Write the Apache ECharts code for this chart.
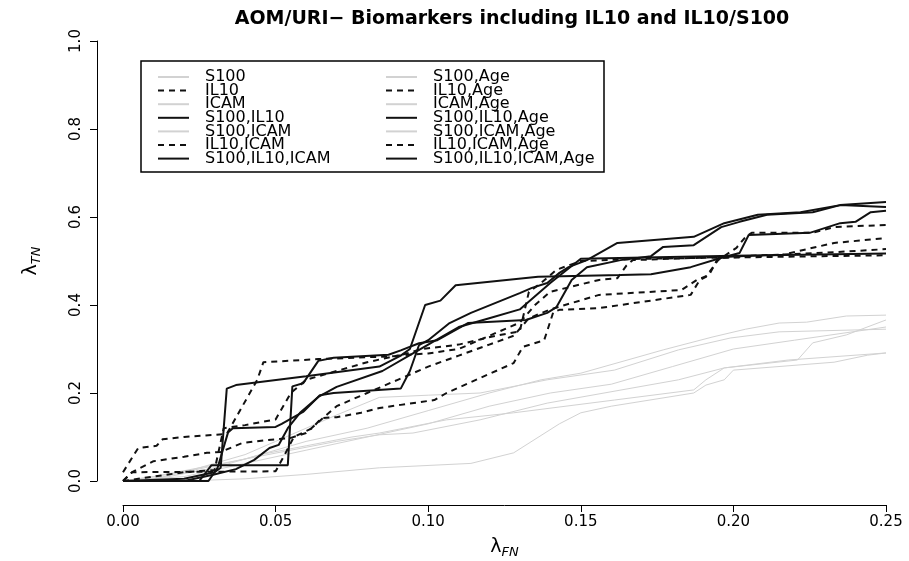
<!DOCTYPE html>
<html>
<head>
<meta charset="utf-8">
<script src="https://cdn.jsdelivr.net/npm/echarts@6/dist/echarts.min.js"></script>
<style>
  html, body { margin: 0; padding: 0; background: #fff; }
  #chart { width: 909px; height: 561px; }
</style>
</head>
<body>
<div id="chart"></div>
<script>
// tick labels
var xTicks = [0, 0.05, 0.10, 0.15, 0.20, 0.25];
var yTicks = [0, 0.2, 0.4, 0.6, 0.8, 1.0];

// legend order (two columns in the original)
var leftNames  = ['S100', 'IL10', 'ICAM', 'S100,IL10', 'S100,ICAM', 'IL10,ICAM', 'S100,IL10,ICAM'];
var rightNames = ['S100,Age', 'IL10,Age', 'ICAM,Age', 'S100,IL10,Age', 'S100,ICAM,Age', 'IL10,ICAM,Age', 'S100,IL10,ICAM,Age'];

// curves: [lambdaFN, lambdaTN]
// grey ones
var s100 = [[0,0],[0.01,0.005],[0.02,0.02],[0.03,0.04],[0.04,0.06],[0.05,0.09],[0.06,0.12],[0.07,0.15],[0.084,0.19],[0.1,0.195],[0.117,0.2],[0.139,0.23],[0.161,0.252],[0.182,0.298],[0.199,0.325],[0.215,0.339],[0.25,0.345]];
var icam = [[0,0],[0.02,0],[0.04,0.005],[0.06,0.015],[0.084,0.03],[0.114,0.04],[0.128,0.064],[0.143,0.13],[0.15,0.155],[0.16,0.17],[0.187,0.2],[0.191,0.218],[0.197,0.23],[0.2,0.252],[0.233,0.27],[0.244,0.286],[0.25,0.291]];
var s100Icam = [[0,0],[0.01,0.01],[0.025,0.03],[0.04,0.05],[0.055,0.07],[0.07,0.09],[0.084,0.105],[0.095,0.109],[0.117,0.139],[0.139,0.177],[0.182,0.23],[0.197,0.257],[0.221,0.275],[0.226,0.314],[0.237,0.332],[0.25,0.366]];
var s100Age = [[0,0],[0.015,0.01],[0.03,0.03],[0.045,0.06],[0.06,0.08],[0.075,0.1],[0.084,0.109],[0.106,0.139],[0.128,0.155],[0.161,0.184],[0.187,0.207],[0.191,0.23],[0.197,0.257],[0.218,0.275],[0.25,0.291]];
var icamAge = [[0,0],[0.02,0.02],[0.04,0.05],[0.06,0.09],[0.08,0.12],[0.1,0.16],[0.12,0.2],[0.137,0.23],[0.15,0.245],[0.177,0.298],[0.193,0.327],[0.204,0.345],[0.215,0.359],[0.224,0.361],[0.237,0.375],[0.25,0.377]];
var s100IcamAge = [[0,0],[0.02,0.01],[0.04,0.04],[0.06,0.07],[0.08,0.1],[0.1,0.13],[0.12,0.17],[0.14,0.2],[0.16,0.22],[0.18,0.26],[0.2,0.3],[0.22,0.32],[0.24,0.34],[0.25,0.35]];

// dashed ones
var il10 = [[0,0.02],[0.005,0.075],[0.011,0.08],[0.013,0.095],[0.02,0.1],[0.034,0.107],[0.044,0.23],[0.046,0.27],[0.064,0.277],[0.09,0.284],[0.098,0.3],[0.11,0.31],[0.122,0.33],[0.13,0.34],[0.133,0.43],[0.137,0.45],[0.142,0.48],[0.15,0.5],[0.17,0.505],[0.2,0.508],[0.25,0.513]];
var il10Icam = [[0,0],[0.003,0.02],[0.05,0.022],[0.053,0.06],[0.056,0.1],[0.062,0.12],[0.065,0.143],[0.07,0.145],[0.078,0.155],[0.084,0.166],[0.091,0.173],[0.102,0.184],[0.106,0.2],[0.128,0.268],[0.131,0.305],[0.138,0.32],[0.141,0.384],[0.143,0.389],[0.156,0.393],[0.186,0.423],[0.189,0.457],[0.191,0.464],[0.195,0.502],[0.201,0.53],[0.204,0.555],[0.206,0.564],[0.226,0.564],[0.233,0.577],[0.25,0.582]];
var il10Age = [[0,0],[0.003,0.02],[0.01,0.045],[0.02,0.055],[0.0275,0.064],[0.032,0.066],[0.039,0.086],[0.047,0.093],[0.055,0.098],[0.06,0.109],[0.065,0.14],[0.07,0.17],[0.08,0.2],[0.09,0.23],[0.1,0.26],[0.11,0.285],[0.12,0.31],[0.128,0.33],[0.133,0.37],[0.14,0.39],[0.156,0.423],[0.183,0.434],[0.188,0.457],[0.192,0.468],[0.195,0.507],[0.216,0.514],[0.226,0.53],[0.233,0.541],[0.25,0.552]];
var il10IcamAge = [[0,0],[0.01,0.01],[0.02,0.02],[0.03,0.025],[0.033,0.12],[0.04,0.127],[0.05,0.14],[0.055,0.2],[0.06,0.23],[0.07,0.25],[0.08,0.27],[0.09,0.285],[0.1,0.29],[0.11,0.3],[0.12,0.33],[0.13,0.36],[0.135,0.4],[0.14,0.43],[0.156,0.457],[0.162,0.461],[0.165,0.49],[0.167,0.502],[0.2,0.51],[0.233,0.52],[0.25,0.527]];

// solid black ones
var s100Il10 = [[0,0],[0.02,0.005],[0.03,0.02],[0.032,0.03],[0.034,0.21],[0.037,0.218],[0.06,0.238],[0.084,0.26],[0.091,0.285],[0.094,0.3],[0.099,0.4],[0.104,0.41],[0.109,0.445],[0.136,0.464],[0.163,0.468],[0.173,0.47],[0.186,0.486],[0.195,0.505],[0.202,0.518],[0.205,0.559],[0.225,0.564],[0.235,0.586],[0.24,0.589],[0.245,0.611],[0.25,0.614]];
var s100Il10Icam = [[0,0],[0.025,0],[0.029,0.036],[0.054,0.036],[0.0555,0.215],[0.059,0.222],[0.064,0.273],[0.069,0.28],[0.087,0.287],[0.091,0.297],[0.097,0.313],[0.103,0.32],[0.113,0.359],[0.132,0.366],[0.139,0.382],[0.142,0.395],[0.147,0.457],[0.152,0.486],[0.163,0.502],[0.173,0.511],[0.177,0.532],[0.187,0.536],[0.196,0.577],[0.202,0.589],[0.211,0.605],[0.226,0.611],[0.235,0.627],[0.25,0.623]];
var s100Il10Age = [[0,0],[0.028,0],[0.031,0.03],[0.0344,0.11],[0.036,0.12],[0.05,0.123],[0.052,0.13],[0.059,0.157],[0.0645,0.195],[0.069,0.2],[0.091,0.21],[0.094,0.25],[0.097,0.309],[0.1,0.32],[0.107,0.359],[0.114,0.382],[0.13,0.427],[0.134,0.439],[0.139,0.45],[0.143,0.473],[0.146,0.486],[0.152,0.502],[0.162,0.541],[0.187,0.555],[0.197,0.586],[0.208,0.605],[0.222,0.611],[0.235,0.627],[0.25,0.634]];
var s100Il10IcamAge = [[0,0],[0.02,0],[0.0295,0.014],[0.037,0.027],[0.043,0.048],[0.048,0.075],[0.051,0.082],[0.054,0.12],[0.058,0.155],[0.064,0.191],[0.07,0.214],[0.085,0.25],[0.095,0.29],[0.1,0.31],[0.11,0.35],[0.12,0.37],[0.13,0.39],[0.14,0.45],[0.15,0.505],[0.2,0.512],[0.25,0.517]];

var curves = {
  'S100': s100, 'IL10': il10, 'ICAM': icam, 'S100,IL10': s100Il10,
  'S100,ICAM': s100Icam, 'IL10,ICAM': il10Icam, 'S100,IL10,ICAM': s100Il10Icam,
  'S100,Age': s100Age, 'IL10,Age': il10Age, 'ICAM,Age': icamAge, 'S100,IL10,Age': s100Il10Age,
  'S100,ICAM,Age': s100IcamAge, 'IL10,ICAM,Age': il10IcamAge, 'S100,IL10,ICAM,Age': s100Il10IcamAge
};

// line kind per legend row: grey, dashed, grey, solid, grey, dashed, solid
var kinds = ['grey', 'dash', 'grey', 'solid', 'grey', 'dash', 'solid'];

function lineStyleFor(kind) {
  if (kind == 'grey') return { color: '#d2d2d2', width: 1, type: 'solid' };
  if (kind == 'dash') return { color: '#111', width: 2, type: [6, 5] };
  return { color: '#111', width: 2, type: 'solid' };
}

var series = [];
var allNames = leftNames.concat(rightNames);
allNames.forEach(function (name, i) {
  var ls = lineStyleFor(kinds[i % 7]);
  series.push({
    name: name,
    type: 'line',
    data: curves[name],
    symbol: 'none',
    clip: false,
    z: kinds[i % 7] == 'grey' ? 1 : 2,
    lineStyle: ls,
    itemStyle: { color: ls.color },
    emphasis: { disabled: true }
  });
});

var font = 'DejaVu Sans';

function legendAt(left, names) {
  return {
    data: names,
    orient: 'vertical',
    left: left,
    top: 69,
    padding: 0,
    itemGap: -2.4,
    itemWidth: 31,
    itemHeight: 13.6,
    selectedMode: false,
    itemStyle: { opacity: 0 },
    textStyle: { fontFamily: font, fontSize: 16, color: '#000', padding: [0, 0, 0, 11] }
  };
}

var chart = echarts.init(document.getElementById('chart'));
chart.setOption({
  animation: false,
  backgroundColor: '#fff',
  title: {
    text: 'AOM/URI\u2212 Biomarkers including IL10 and IL10/S100',
    left: 507,
    top: 5,
    textAlign: 'center',
    textStyle: { fontFamily: font, fontSize: 19, fontWeight: 'bold', color: '#000' }
  },
  legend: [legendAt(157, leftNames), legendAt(385, rightNames)],
  grid: { left: 123, top: 41, width: 763, height: 440, containLabel: false, outerBoundsMode: 'none' },
  xAxis: {
    type: 'value',
    min: 0, max: 0.25, interval: 0.05,
    offset: 24,
    name: '{l|\u03bb}{s|FN}',
    nameLocation: 'middle',
    nameGap: 31,
    nameTextStyle: {
      rich: {
        l: { fontFamily: font, fontSize: 19, color: '#000' },
        s: { fontFamily: font, fontSize: 13, fontStyle: 'italic', color: '#000', padding: [10, 0, 0, 0] }
      }
    },
    axisLine: { onZero: false, lineStyle: { color: '#000', width: 1 } },
    axisTick: { length: 7, lineStyle: { color: '#000' } },
    axisLabel: { fontFamily: font, fontSize: 15, color: '#000', margin: 10,
      formatter: function (v) { return v.toFixed(2); } },
    splitLine: { show: false }
  },
  yAxis: {
    type: 'value',
    min: 0, max: 1, interval: 0.2,
    offset: 26,
    name: '{l|\u03bb}{s|TN}',
    nameLocation: 'middle',
    nameRotate: 90,
    nameGap: 54,
    nameTextStyle: {
      rich: {
        l: { fontFamily: font, fontSize: 19, color: '#000' },
        s: { fontFamily: font, fontSize: 13, fontStyle: 'italic', color: '#000', padding: [10, 0, 0, 0] }
      }
    },
    axisLine: { show: true, onZero: false, lineStyle: { color: '#000', width: 1 } },
    axisTick: { show: true, length: 7, lineStyle: { color: '#000' } },
    axisLabel: { fontFamily: font, fontSize: 15, color: '#000', rotate: 90, margin: 13,
      formatter: function (v) { return v.toFixed(1); } },
    splitLine: { show: false }
  },
  graphic: [{
    type: 'rect',
    shape: { x: 141, y: 61, width: 463, height: 111 },
    style: { fill: 'none', stroke: '#000', lineWidth: 1.5 },
    z: 100
  }],
  series: series
});
</script>
</body>
</html>
